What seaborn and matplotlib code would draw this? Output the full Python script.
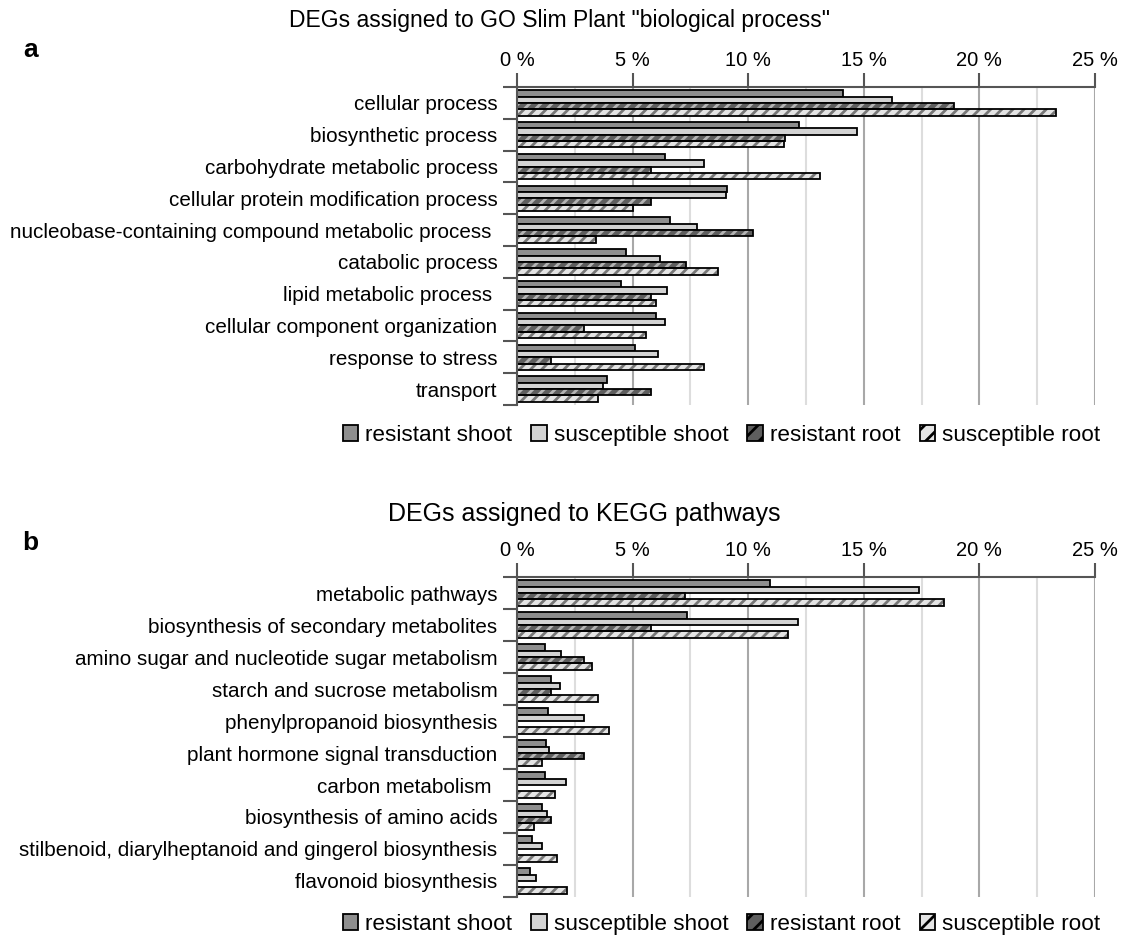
import matplotlib
matplotlib.use("Agg")
import matplotlib.pyplot as plt
from matplotlib.patches import Patch, Rectangle
import seaborn as sns
import pandas as pd
import numpy as np

series = ["resistant shoot", "susceptible shoot", "resistant root", "susceptible root"]

go_categories = [
    "cellular process",
    "biosynthetic process",
    "carbohydrate metabolic process",
    "cellular protein modification process",
    "nucleobase-containing compound metabolic process ",
    "catabolic process",
    "lipid metabolic process ",
    "cellular component organization",
    "response to stress",
    "transport",
]
go_resistant_shoot = [14.1, 12.2, 6.4, 9.1, 6.6, 4.7, 4.5, 6.0, 5.1, 3.9]
go_susceptible_shoot = [16.2, 14.7, 8.1, 9.05, 7.8, 6.2, 6.5, 6.4, 6.1, 3.7]
go_resistant_root = [18.9, 11.6, 5.8, 5.8, 10.2, 7.3, 5.8, 2.9, 1.45, 5.8]
go_susceptible_root = [23.3, 11.55, 13.1, 5.0, 3.4, 8.7, 6.0, 5.6, 8.1, 3.5]

kegg_categories = [
    "metabolic pathways",
    "biosynthesis of secondary metabolites",
    "amino sugar and nucleotide sugar metabolism",
    "starch and sucrose metabolism",
    "phenylpropanoid biosynthesis",
    "plant hormone signal transduction",
    "carbon metabolism ",
    "biosynthesis of amino acids",
    "stilbenoid, diarylheptanoid and gingerol biosynthesis",
    "flavonoid biosynthesis",
]
kegg_resistant_shoot = [10.95, 7.35, 1.2, 1.45, 1.35, 1.25, 1.2, 1.1, 0.65, 0.58]
kegg_susceptible_shoot = [17.4, 12.15, 1.9, 1.85, 2.9, 1.4, 2.1, 1.3, 1.1, 0.8]
kegg_resistant_root = [7.25, 5.8, 2.9, 1.45, np.nan, 2.9, np.nan, 1.45, np.nan, np.nan]
kegg_susceptible_root = [18.45, 11.7, 3.25, 3.5, 4.0, 1.1, 1.65, 0.75, 1.75, 2.15]

face_colors = ["#8e8e8e", "#d3d3d3", "#5e5e5e", "#e4e4e4"]
hatch_colors = [None, None, "#b4b4b4", "#777777"]
hatches = ["", "", "///", "///"]

plt.rcParams["font.family"] = ["Liberation Sans", "DejaVu Sans"]
plt.rcParams["hatch.linewidth"] = 2.0


def long_df(cats, vals):
    rows = []
    for s, v in zip(series, vals):
        for c, x in zip(cats, v):
            rows.append({"category": c, "series": s, "value": x})
    return pd.DataFrame(rows)


fig = plt.figure(figsize=(11.21, 9.5), dpi=100)
ax_a = fig.add_axes([0.4612, 0.5737, 0.5156, 0.3347])
ax_b = fig.add_axes([0.4612, 0.0558, 0.5156, 0.3368])


def draw(ax, cats, vals):
    df = long_df(cats, vals)
    sns.barplot(data=df, y="category", x="value", hue="series", order=cats,
                hue_order=series, orient="h", width=0.8, ax=ax, legend=False,
                palette=face_colors, edgecolor="black", linewidth=1.3,
                err_kws={"linewidth": 0})
    for i, cont in enumerate(ax.containers):
        for p in cont.patches:
            if not np.isfinite(p.get_width()) or p.get_width() == 0:
                continue
            if hatches[i]:
                p.set_facecolor(face_colors[i])
                p.set_hatch(hatches[i])
                p.set_edgecolor(hatch_colors[i])
                p.set_linewidth(0)
                ax.add_patch(Rectangle(p.get_xy(), p.get_width(), p.get_height(),
                                       fill=False, edgecolor="black", linewidth=1.3,
                                       zorder=p.get_zorder() + 0.1))
    ax.set_xlim(0, 25)
    ax.set_ylim(len(cats) - 0.5, -0.5)
    ax.xaxis.tick_top()
    ax.set_xticks(np.arange(0, 26, 5))
    ax.set_xticklabels([f"{v} %" for v in range(0, 26, 5)])
    ax.set_xticks(np.arange(2.5, 25, 5), minor=True)
    ax.set_yticks(np.arange(-0.5, len(cats), 1.0), minor=True)
    ax.tick_params(axis="x", which="major", length=10, width=1.5, color="#555555",
                   labelsize=14.5, pad=2)
    ax.tick_params(axis="x", which="minor", length=0)
    ax.tick_params(axis="y", which="major", length=0, labelsize=14.9, pad=14)
    ax.tick_params(axis="y", which="minor", length=10, width=1.5, color="#555555")
    ax.grid(axis="x", which="major", color="#a8a8a8", linewidth=1.5)
    ax.grid(axis="x", which="minor", color="#dddddd", linewidth=1.5)
    ax.set_axisbelow(True)
    ax.set_xlabel("")
    ax.set_ylabel("")
    for s in ["bottom", "right"]:
        ax.spines[s].set_visible(False)
    for s in ["top", "left"]:
        ax.spines[s].set_color("#555555")
        ax.spines[s].set_linewidth(1.5)


draw(ax_a, go_categories, [go_resistant_shoot, go_susceptible_shoot,
                           go_resistant_root, go_susceptible_root])
draw(ax_b, kegg_categories, [kegg_resistant_shoot, kegg_susceptible_shoot,
                             kegg_resistant_root, kegg_susceptible_root])

fig.text(0.4995, 0.978, 'DEGs assigned to GO Slim Plant "biological process"',
         ha="center", va="center", fontsize=16.5)
fig.text(0.521, 0.459, "DEGs assigned to KEGG pathways",
         ha="center", va="center", fontsize=18)
fig.text(0.027, 0.947, "a", fontsize=19, fontweight="bold", ha="center", va="center")
fig.text(0.027, 0.428, "b", fontsize=19, fontweight="bold", ha="center", va="center")

handles = []
for i, s in enumerate(series):
    p = Patch(facecolor=face_colors[i], edgecolor="black",
              hatch=hatches[i][:2], linewidth=1.3, label=s)
    handles.append(p)
for y in [0.542, 0.027]:
    fig.legend(handles=handles, loc="center", bbox_to_anchor=(0.6435, y), ncol=4,
               frameon=False, fontsize=16.2, handlelength=0.7, handleheight=0.7,
               handletextpad=0.3, columnspacing=0.85, borderaxespad=0)

fig.savefig("out.png", dpi=100)
